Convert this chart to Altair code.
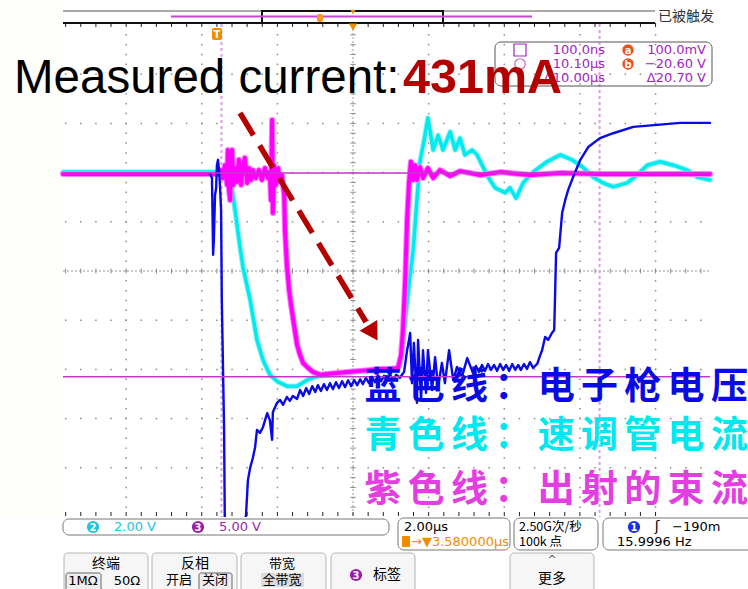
import altair as alt
import pandas as pd

# ---------------- scope settings ----------------
TIME_PER_DIV = 2.0          # µs / div
CENTER_DELAY = 3.58         # µs, trigger -> screen centre
VIEW_T = [-4.09, 13.02]     # µs visible on the screenshot
VIEW_DIV = [-5, 5]          # screen divisions
CH3_ZERO_DIV = 1.97         # ch3 ground level (div)
CH3_V_PER_DIV = 5.0

cursor_times = [0.10, 10.10]     # µs
cursor_volts = [0.10, -20.60]    # V on ch3

# ---------------- traces: (time µs, screen divisions) ----------------
cyan_trace = [
    (-4.09, 2.01), (0.01, 2.01), (0.11, 1.95), (0.22, 1.85), (0.33, 1.71), (0.38, 1.65),
    (0.46, 1.24), (0.59, 0.49), (0.67, 0.08), (0.86, -0.59), (1.04, -1.40), (1.20, -1.81),
    (1.38, -2.11), (1.57, -2.24), (1.83, -2.34), (2.10, -2.34), (2.36, -2.22), (2.58, -2.15),
    (2.97, -2.11), (3.77, -2.05), (4.77, -2.01), (4.88, -1.71), (4.96, -1.00), (5.06, -0.28),
    (5.17, 0.43), (5.27, 1.44), (5.35, 2.22), (5.46, 2.66), (5.56, 3.11), (5.70, 2.46),
    (5.83, 2.76), (5.96, 2.46), (6.15, 2.83), (6.28, 2.46), (6.41, 2.70), (6.54, 2.36),
    (6.73, 2.46), (6.86, 2.36), (7.02, 2.11), (7.20, 1.85), (7.34, 1.69), (7.60, 1.59),
    (7.73, 1.69), (7.89, 1.48), (8.08, 1.79), (8.34, 2.01), (8.71, 2.22), (9.06, 2.36),
    (9.37, 2.26), (9.66, 2.11), (9.93, 1.91), (10.19, 1.79), (10.46, 1.71), (10.83, 1.79),
    (11.09, 1.95), (11.36, 2.15), (11.70, 2.22), (12.05, 2.15), (12.42, 2.05), (12.68, 1.91),
    (13.02, 1.85),
]

magenta_trace = [
    (-4.09, 1.97), (0.01, 1.97), (0.09, 2.05), (0.14, 1.89), (0.19, 2.15), (0.25, 1.75),
    (0.27, 2.46), (0.30, 1.65), (0.33, 1.44), (0.35, 2.26), (0.38, 2.46), (0.41, 1.75),
    (0.46, 2.09), (0.51, 1.81), (0.56, 2.26), (0.62, 1.75), (0.67, 2.15), (0.72, 2.30),
    (0.78, 1.79), (0.83, 2.09), (0.88, 1.85), (0.93, 2.05), (1.01, 1.89), (1.09, 2.05),
    (1.17, 1.85), (1.25, 2.09), (1.33, 1.89), (1.38, 2.01), (1.41, 1.44), (1.44, 3.07),
    (1.46, 1.18), (1.49, 2.15), (1.54, 1.75), (1.60, 2.09), (1.65, 1.81), (1.70, 1.95),
    (1.76, 1.54), (1.78, 0.83), (1.83, 0.12), (1.89, -0.39), (1.94, -0.69), (2.02, -1.10),
    (2.10, -1.50), (2.18, -1.71), (2.26, -1.87), (2.39, -1.97), (2.52, -2.05), (2.71, -2.11),
    (2.97, -2.09), (3.24, -2.07), (3.50, -2.05), (3.77, -2.03), (4.03, -2.01), (4.29, -1.99),
    (4.56, -1.99), (4.77, -1.97), (4.85, -1.71), (4.90, -1.20), (4.96, -0.18), (5.01, 1.04),
    (5.06, 1.79), (5.11, 2.22), (5.17, 1.85), (5.22, 2.15), (5.27, 1.85), (5.35, 2.11),
    (5.43, 1.89), (5.56, 2.09), (5.70, 1.89), (5.88, 2.05), (6.15, 1.93), (6.41, 2.03),
    (6.94, 1.95), (7.47, 2.01), (8.26, 1.95), (9.06, 1.99), (10.11, 1.97), (11.44, 1.97),
    (13.02, 1.97),
]

blue_trace = [
    (-0.20, 1.97), (-0.15, 1.89), (-0.12, 0.33), (-0.10, 0.63), (-0.07, 1.54), (-0.04, 1.69),
    (-0.02, 2.15), (0.01, 2.26), (0.04, 2.01), (0.06, 1.75), (0.09, 1.24), (0.11, -0.59),
    (0.17, -3.23), (0.19, -5.20), (0.22, -5.60), (0.59, -5.60), (0.75, -4.96), (0.80, -4.25),
    (0.86, -4.00), (0.93, -3.80), (0.99, -3.58), (1.04, -3.23), (1.12, -3.29), (1.20, -3.17),
    (1.31, -2.89), (1.38, -3.03), (1.44, -3.43), (1.46, -2.87), (1.57, -2.68), (1.65, -2.62),
    (1.73, -2.72), (1.83, -2.56), (1.91, -2.64), (1.99, -2.54), (2.10, -2.60), (2.18, -2.42),
    (2.26, -2.54), (2.34, -2.38), (2.42, -2.50), (2.50, -2.34), (2.58, -2.46), (2.65, -2.32),
    (2.73, -2.44), (2.81, -2.30), (2.89, -2.42), (2.97, -2.28), (3.05, -2.40), (3.13, -2.26),
    (3.21, -2.38), (3.29, -2.24), (3.37, -2.36), (3.45, -2.22), (3.53, -2.34), (3.61, -2.22),
    (3.69, -2.32), (3.77, -2.20), (3.84, -2.30), (3.92, -2.17), (4.00, -2.28), (4.08, -2.15),
    (4.16, -2.26), (4.24, -2.13), (4.32, -2.24), (4.40, -2.13), (4.48, -2.22), (4.56, -2.11),
    (4.64, -2.22), (4.72, -2.11), (4.82, -2.17), (4.93, -2.05), (5.01, -1.61), (5.06, -1.40),
    (5.09, -1.26), (5.14, -2.28), (5.19, -1.46), (5.27, -2.68), (5.30, -1.40), (5.38, -2.62),
    (5.43, -1.61), (5.51, -2.48), (5.56, -1.61), (5.67, -2.42), (5.75, -1.75), (5.83, -2.36),
    (5.93, -1.87), (6.01, -2.28), (6.12, -1.61), (6.23, -2.22), (6.33, -1.95), (6.46, -2.15),
    (6.60, -1.77), (6.75, -2.07), (6.83, -1.93), (6.91, -2.05), (6.99, -1.91), (7.07, -2.03),
    (7.15, -1.89), (7.23, -2.01), (7.31, -1.91), (7.39, -2.03), (7.47, -1.89), (7.55, -2.01),
    (7.63, -1.91), (7.71, -2.03), (7.79, -1.89), (7.87, -2.01), (7.95, -1.91), (8.02, -2.01),
    (8.10, -1.89), (8.18, -1.99), (8.26, -1.85), (8.34, -1.97), (8.45, -1.89), (8.53, -1.71),
    (8.58, -1.61), (8.66, -1.34), (8.74, -1.40), (8.84, -1.26), (8.90, -1.20), (8.92, -0.59),
    (8.95, 0.37), (9.03, 0.47), (9.11, 1.18), (9.19, 1.44), (9.27, 1.65), (9.40, 1.91),
    (9.59, 2.26), (9.80, 2.52), (10.11, 2.70), (10.46, 2.80), (10.99, 2.93), (11.62, 2.97),
    (12.23, 3.01), (13.02, 3.01),
]

# ---------------- texts ----------------
title_main = "Measured current:"
title_value = "431mA"
legend_lines = ["蓝色线：电子枪电压", "青色线：速调管电流", "紫色线：出射的束流"]
legend_colors = ["#0a0ae6", "#00e8f0", "#e23ee2"]
readout_left = ["100.0ns", "10.10µs", "Δ10.00µs"]
readout_right = ["100.0mV", "−20.60 V", "Δ20.70 V"]
status_text = "已被触发"

# ---------------- scales ----------------
XS = alt.Scale(domain=VIEW_T, range=[63, 710], nice=False, zero=False)
YS = alt.Scale(domain=VIEW_DIV, range=[517, 25], nice=False, zero=False)


def X(f="t"):
    return alt.X(f"{f}:Q", scale=XS, axis=None)


def Y(f="d"):
    return alt.Y(f"{f}:Q", scale=YS, axis=None)


ONE = pd.DataFrame({"k": [0]})
CJK = "Noto Sans CJK SC"
UI = "Liberation Sans Narrow, DejaVu Sans"


def ptext(s, x, y, **kw):
    return alt.Chart(ONE).mark_text(text=s, **kw).encode(x=alt.value(x), y=alt.value(y))


def prect(x1, y1, x2, y2, **kw):
    return alt.Chart(ONE).mark_rect(**kw).encode(
        x=alt.value(x1), x2=alt.value(x2), y=alt.value(y1), y2=alt.value(y2))


def prule(x1, y1, x2, y2, **kw):
    return alt.Chart(ONE).mark_rule(**kw).encode(
        x=alt.value(x1), x2=alt.value(x2), y=alt.value(y1), y2=alt.value(y2))


def ppoint(x, y, **kw):
    return alt.Chart(ONE).mark_point(**kw).encode(x=alt.value(x), y=alt.value(y))


def badge(num, x, y, color, size=150):
    return [ppoint(x, y, shape="circle", filled=True, size=size, color=color, opacity=1),
            ptext(num, x, y + 0.5, color="white", fontSize=10, fontWeight="bold",
                  font="DejaVu Sans", align="center", baseline="middle")]


def trace(points, color, width, opacity=1.0):
    df = pd.DataFrame(points, columns=["t", "d"])
    df["i"] = range(len(df))
    return alt.Chart(df).mark_line(color=color, strokeWidth=width, strokeJoin="round",
                                   strokeCap="round", opacity=opacity).encode(
        x=X(), y=Y(), order="i:Q")


layers = []

# very faint cream margin left of the screen
layers.append(prect(0, 0, 63, 517, fill="#fefefa"))

# ---------------- graticule ----------------
minor_t = [CENTER_DELAY + 0.2 * TIME_PER_DIV * k for k in range(-30, 30)]
minor_t = [t for t in minor_t if VIEW_T[0] <= t <= VIEW_T[1]]
major_t = [CENTER_DELAY + TIME_PER_DIV * k for k in range(-5, 6)]
major_t = [t for t in major_t if VIEW_T[0] <= t <= VIEW_T[1]]
dots = [(t, d) for d in range(-4, 5) if d != 0 for t in minor_t]
dots += [(t, -5 + 0.2 * k) for t in major_t if abs(t - CENTER_DELAY) > 1e-6 for k in range(1, 50)]
dots_df = pd.DataFrame(dots, columns=["t", "d"])
layers.append(alt.Chart(dots_df).mark_square(size=2.2, color="#8a8a8a", opacity=1).encode(x=X(), y=Y()))

# centre cross (dense dashed with minor ticks)
layers.append(alt.Chart(pd.DataFrame({"d": [0]})).mark_rule(color="#9a9a9a", strokeDash=[2, 2], strokeWidth=1)
              .encode(y=Y(), x=alt.value(63), x2=alt.value(710)))
layers.append(alt.Chart(pd.DataFrame({"t": [CENTER_DELAY]})).mark_rule(color="#9a9a9a", strokeDash=[2, 2], strokeWidth=1)
              .encode(x=X(), y=alt.value(25), y2=alt.value(517)))
ct = pd.DataFrame({"t": minor_t, "d0": -0.05, "d1": 0.05})
layers.append(alt.Chart(ct).mark_rule(color="#8a8a8a", strokeWidth=1).encode(
    x=X(), y=Y("d0"), y2=alt.Y2("d1:Q")))
cd = pd.DataFrame({"d": [-5 + 0.2 * k for k in range(1, 50)]})
cd["t0"] = CENTER_DELAY - 0.07
cd["t1"] = CENTER_DELAY + 0.07
layers.append(alt.Chart(cd).mark_rule(color="#8a8a8a", strokeWidth=1).encode(
    y=Y(), x=X("t0"), x2=alt.X2("t1:Q")))

# time cursors (dashed, light purple)
layers.append(alt.Chart(pd.DataFrame({"t": cursor_times})).mark_rule(
    color="#dc9ee6", strokeDash=[3, 3], strokeWidth=2).encode(x=X(), y=alt.value(24), y2=alt.value(517)))

# ---------------- waveforms ----------------
layers.append(trace(cyan_trace, "#9af6f6", 5.5))
layers.append(trace(cyan_trace, "#00eaf0", 3.5))
layers.append(trace(magenta_trace, "#ff80ff", 6.0))
layers.append(trace(magenta_trace, "#ff00ff", 4.0))
layers.append(trace(blue_trace, "#0a0ae6", 2.4))

# amplitude cursors on ch3
cv = pd.DataFrame({"v": cursor_volts})
cv["d"] = CH3_ZERO_DIV + cv["v"] / CH3_V_PER_DIV
layers.append(alt.Chart(cv).mark_rule(color="#c238c8", strokeWidth=1.5).encode(
    y=Y(), x=alt.value(63), x2=alt.value(710)))

# clip the bottom: everything below the screen is the control strip
layers.append(prect(0, 517, 748, 589, fill="white"))

# rulers at the screen edges
rt = pd.DataFrame({"t": [t for t in minor_t if t <= 11.6]})
layers.append(alt.Chart(rt).mark_rule(color="#222", strokeWidth=1).encode(x=X(), y=alt.value(23), y2=alt.value(27)))
layers.append(alt.Chart(rt).mark_rule(color="#222", strokeWidth=1).encode(x=X(), y=alt.value(512), y2=alt.value(516)))

# ---------------- top status bar ----------------
layers += [
    prule(63, 11, 655, 11, color="#555", strokeWidth=1),
    prule(63, 23, 655, 23, color="#111", strokeWidth=2),
    prect(262, 11, 443, 23, fillOpacity=0, stroke="#111", strokeWidth=2),
    prule(171, 16.5, 532, 16.5, color="#c845d5", strokeWidth=2),
    prect(317, 14, 323, 22, fill="#f59a20", cornerRadius=2),
    ppoint(353, 12, shape="triangle-down", filled=True, size=30, color="#f08c00", opacity=1),
    ppoint(353, 27, shape="triangle-down", filled=True, size=70, color="#f08c00", opacity=1),
    ptext(status_text, 658, 17, fontSize=14, color="#333", font=CJK, align="left", baseline="middle"),
    prect(212, 28, 222, 40, fill="#f08c00", cornerRadius=2),
    ptext("T", 217, 34.5, fontSize=10, color="white", fontWeight="bold", font="DejaVu Sans",
          align="center", baseline="middle"),
]

# ---------------- cursor readout box ----------------
PURPLE = "#a224c2"
layers.append(prect(495, 42, 712, 86, fillOpacity=0, stroke="#555", strokeWidth=1, cornerRadius=6))
layers.append(prect(514, 44, 526, 56, fillOpacity=0, stroke=PURPLE, strokeWidth=1.2))
layers.append(ppoint(520, 64, shape="circle", size=110, color=PURPLE, strokeWidth=1.2))
for i, (s_l, s_r) in enumerate(zip(readout_left, readout_right)):
    y = 50 + 14 * i
    layers.append(ptext(s_l, 605, y, fontSize=13, color=PURPLE, font="DejaVu Sans", align="right", baseline="middle"))
    layers.append(ptext(s_r, 706, y, fontSize=13, color=PURPLE, font="DejaVu Sans", align="right", baseline="middle"))
layers += badge("a", 628, 50, "#f0501a", size=130)
layers += badge("b", 628, 64, "#f0501a", size=130)

# ---------------- annotations ----------------
layers.append(ptext(title_main, 14, 93, fontSize=47.5, color="black", font="Liberation Sans, Arial",
                    align="left", baseline="alphabetic"))
layers.append(ptext(title_value, 403, 93, fontSize=48.5, color="#b30000", fontWeight="bold",
                    font="Liberation Sans, Arial", align="left", baseline="alphabetic"))
layers.append(prule(240, 113, 366, 322, color="#b50000", strokeWidth=5.5, strokeDash=[26, 12]))
layers.append(ppoint(373, 333, shape="triangle-up", angle=149, filled=True, size=420,
                     color="#b50000", opacity=1))

for line, color, yc in zip(legend_lines, legend_colors, [388, 437, 491]):
    for j, ch in enumerate(line):
        layers.append(ptext(ch, 383 + 43.3 * j, yc, fontSize=37, color=color, font=CJK,
                            fontWeight="bold", align="center", baseline="middle"))

# ---------------- bottom control strip ----------------
CYAN_UI, PURP_UI = "#1ec4e0", "#9b1fae"
layers.append(prect(63, 519, 389, 535, fill="white", stroke="#777", strokeWidth=1, cornerRadius=6))
layers += badge("2", 93, 527, CYAN_UI)
layers.append(ptext("2.00 V", 114, 527, fontSize=13, color=CYAN_UI, font=UI, align="left", baseline="middle"))
layers += badge("3", 198, 527, PURP_UI)
layers.append(ptext("5.00 V", 219, 527, fontSize=13, color=PURP_UI, font=UI, align="left", baseline="middle"))

layers.append(prect(398, 518, 510, 550, fill="white", stroke="#777", strokeWidth=1, cornerRadius=6))
layers.append(ptext("2.00µs", 404, 527, fontSize=13, color="black", font=UI, align="left", baseline="middle"))
layers.append(prect(402, 536, 410, 547, fill="#f08c00", cornerRadius=1))
layers.append(ptext("→▼3.580000µs", 411, 542, fontSize=13, color="#f08c00", font=UI, align="left", baseline="middle"))

layers.append(prect(514, 518, 598, 550, fill="white", stroke="#777", strokeWidth=1, cornerRadius=6))
layers.append(ptext("2.50G次/秒", 519, 527, fontSize=12.5, color="black", font=CJK, align="left", baseline="middle"))
layers.append(ptext("100k 点", 519, 542, fontSize=12.5, color="black", font=CJK, align="left", baseline="middle"))

layers.append(prect(603, 518, 770, 550, fill="white", stroke="#777", strokeWidth=1, cornerRadius=6))
layers += badge("1", 634, 527, "#1a2ee6")
layers.append(ptext("ʃ", 657, 527, fontSize=14, color="black", font="DejaVu Sans", align="center", baseline="middle"))
layers.append(ptext("−190m", 672, 527, fontSize=13, color="black", font=UI, align="left", baseline="middle"))
layers.append(ptext("15.9996 Hz", 617, 542, fontSize=13, color="black", font=UI, align="left", baseline="middle"))

softkeys = [(64, 148), (152, 237), (241, 326), (331, 415), (510, 594)]
for a, b in softkeys:
    layers.append(prect(a, 553, b, 598, fill="#f6f6f6", stroke="#b4b4b4", strokeWidth=1, cornerRadius=4))
layers += [
    ptext("终端", 106, 564, fontSize=14, color="black", font=CJK, align="center", baseline="middle"),
    prect(66, 573, 101, 595, fill="#eeeeee", stroke="#666", strokeWidth=1, cornerRadius=2),
    ptext("1MΩ", 83, 581, fontSize=13, color="black", font=UI, align="center", baseline="middle"),
    ptext("50Ω", 127, 581, fontSize=13, color="black", font=UI, align="center", baseline="middle"),
    ptext("反相", 195, 564, fontSize=14, color="black", font=CJK, align="center", baseline="middle"),
    ptext("开启", 179, 580, fontSize=13, color="black", font=CJK, align="center", baseline="middle"),
    prect(199, 573, 232, 595, fill="#eeeeee", stroke="#666", strokeWidth=1, cornerRadius=2),
    ptext("关闭", 215, 580, fontSize=13, color="black", font=CJK, align="center", baseline="middle"),
    ptext("带宽", 282, 564, fontSize=13, color="black", font=CJK, align="center", baseline="middle"),
    prect(261, 573, 304, 587, fill="#dcdcdc"),
    ptext("全带宽", 282, 580, fontSize=13, color="black", font=CJK, align="center", baseline="middle"),
    ptext("标签", 387, 575, fontSize=14, color="black", font=CJK, align="center", baseline="middle"),
    ptext("^", 552, 560, fontSize=11, color="#555", font="DejaVu Sans", align="center", baseline="middle"),
    ptext("更多", 552, 579, fontSize=14, color="black", font=CJK, align="center", baseline="middle"),
]
layers += badge("3", 356, 575, PURP_UI)

chart = alt.layer(*layers).properties(
    width=748, height=589, autosize=alt.AutoSizeParams(type="none"), padding=0,
    background="white",
).configure_view(strokeWidth=0)

chart.save("out.html", embed_options={"renderer": "svg", "actions": False})
